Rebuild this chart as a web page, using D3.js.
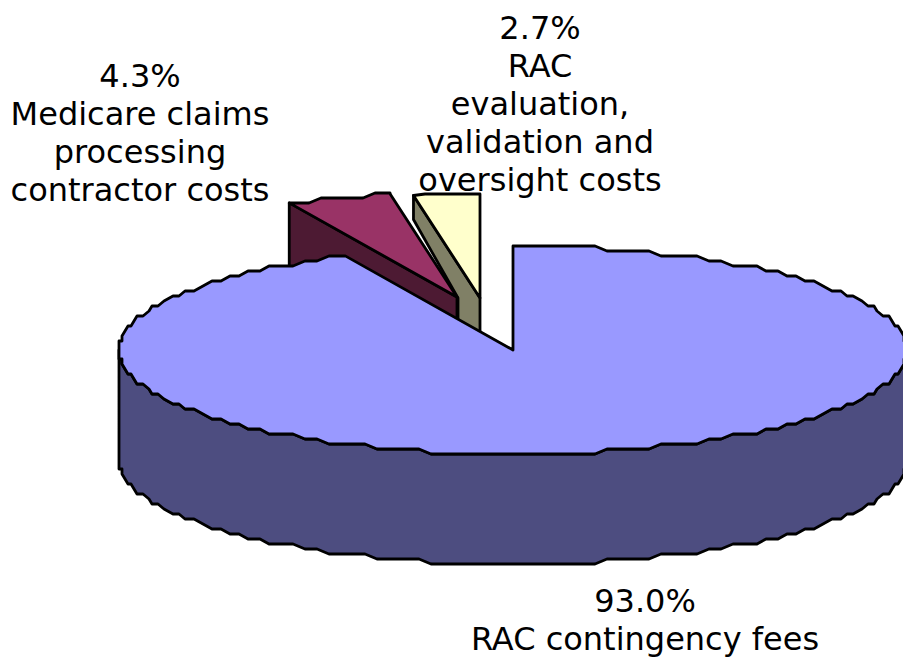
<!DOCTYPE html>
<html><head><meta charset="utf-8">
<script src="https://cdn.jsdelivr.net/npm/d3@7"></script>
<style>html,body{margin:0;padding:0;background:#fff}svg{display:block}text{font-family:"DejaVu Sans",sans-serif;font-size:32px;fill:#000;text-anchor:middle}</style>
</head><body><svg id="c" width="903" height="658"></svg>
<script>
const categories = ["RAC contingency fees","Medicare claims processing contractor costs","RAC evaluation, validation and oversight costs"];
const values = [93.0,4.3,2.7];
const percentLabels = ["93.0%","4.3%","2.7%"];
const labelLines = [["RAC contingency fees"],["Medicare claims","processing","contractor costs"],["RAC","evaluation,","validation and","oversight costs"]];
const topColors = ["#9999ff","#993366","#ffffcc"];
const sideColors = ["#4d4d80","#4d1a33","#808066"];
const explode = [[0,0],[-56,-53],[-33,-52]];
const labelAnchors = [[645,612],[140,87],[540,39]];

const W=903,H=658,cx=513,cy=350,rx=394,ry=104,depth=110,step=2*Math.PI/180;
const svg=d3.select("#c");
const sx=d3.scaleLinear().domain([-1,1]).range([-rx,rx]);
const sy=d3.scaleLinear().domain([-1,1]).range([-ry,ry]);
const arcs=d3.pie().sort(null).value(d=>d)(values);
const line=d3.line();
// rim vertices are quantised from the ellipse's extremes, which gives the faceted outline
function offs(a){
  const dx=sx(Math.sin(a)),dy=sy(Math.cos(a));
  const qx=Math.sign(dx)*(rx-Math.round((rx-Math.abs(dx))/3)*3);
  const qy=Math.sign(dy)*(ry-Math.round((ry-Math.abs(dy))/5)*5);
  return [qx,qy];
}
function pt(i,a){return [cx+explode[i][0]+sx(Math.sin(a)),cy+explode[i][1]-sy(Math.cos(a))];}
function apex(i){return [cx+explode[i][0],cy+explode[i][1]];}
function rim(i,a0,a1){
  const out=[pt(i,a0)];
  const k0=Math.floor(a0/step+1e-9)+1,k1=Math.ceil(a1/step-1e-9)-1;
  for(let k=k0;k<=k1;k++){const o=offs(k*step);out.push([cx+explode[i][0]+o[0],cy+explode[i][1]-o[1]]);}
  out.push(pt(i,a1));
  return out;
}
const down=(p,d=depth)=>[p[0],p[1]+d];
function draw(pts,fill){svg.append("path").attr("d",line(pts)+"Z").attr("fill",fill).attr("stroke","#000").attr("stroke-width",2.8).attr("stroke-linejoin","round");}

// main side wall (front half)
const front=rim(0,Math.PI*0.5,Math.PI*1.5);
draw(front.concat(front.map(p=>down(p)).reverse()),sideColors[0]);
// yellow slice side
const yA=apex(2),yL=pt(2,arcs[2].startAngle),mA=apex(1);
draw([yL,yA,down(yA),[mA[0]+1,mA[1]+100],[mA[0]+1,mA[1]+1],down(yL,24)],sideColors[2]);
// maroon slice side
const mL=pt(1,arcs[1].startAngle);
draw([mL,mA,down(mA),down(mL)],sideColors[1]);
// maroon top
draw([mA].concat(rim(1,arcs[1].startAngle,arcs[1].endAngle)),topColors[1]);
// yellow top
draw([yA].concat(rim(2,arcs[2].startAngle,arcs[2].endAngle)),topColors[2]);
// main top
draw([apex(0)].concat(rim(0,arcs[0].startAngle,arcs[0].endAngle)),topColors[0]);
// labels
labelAnchors.forEach((a,i)=>{
  const t=svg.append("text").attr("x",a[0]).attr("y",a[1]);
  [percentLabels[i]].concat(labelLines[i]).forEach((s,k)=>{
    t.append("tspan").attr("x",a[0]).attr("dy",k?38:0).text(s);
  });
});
</script></body></html>
